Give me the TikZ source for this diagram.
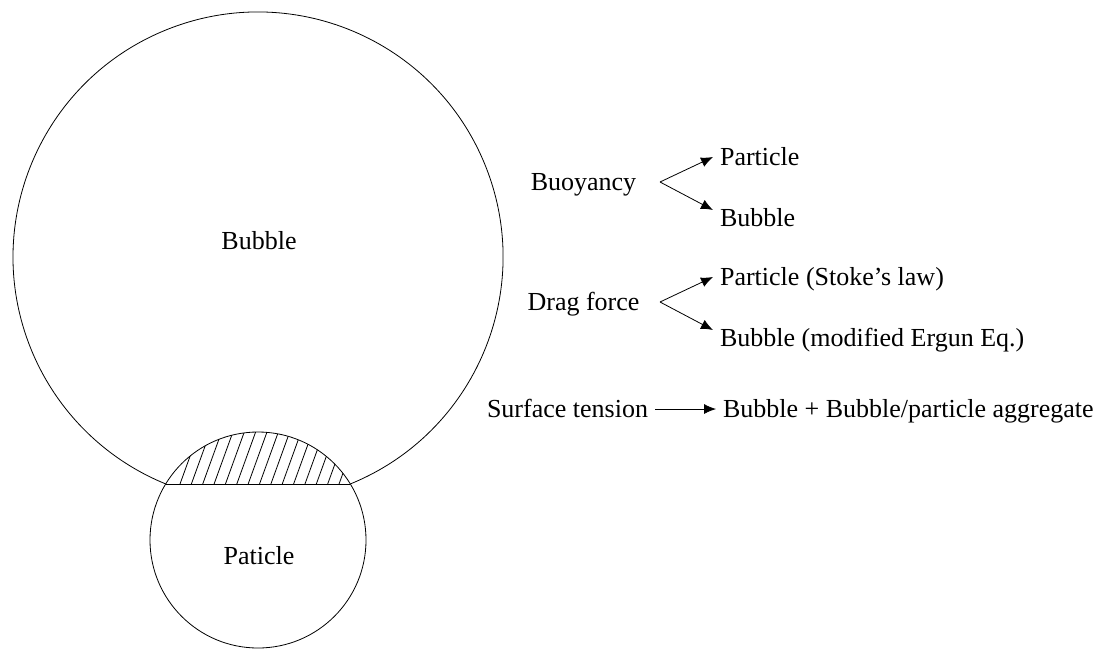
\documentclass[tikz,border=0pt]{standalone}
\usepackage{fontspec}
\setmainfont{Liberation Serif}
\usetikzlibrary{arrows.meta}

\begin{document}
\begin{tikzpicture}[x=0.5pt, y=-0.5pt,
    every node/.style={font=\fontsize{13}{15}\selectfont, text height=8.6pt, text depth=0pt},
    arr/.style={-{Latex[length=6pt, width=5pt]}}]
    \useasboundingbox (0,0) rectangle (1111,648);

    % Bubble and particle
    \coordinate (cl) at (165.6,483.9);
    \coordinate (cr) at (350.4,483.9);
    \draw (cr) arc[start angle=67.85, end angle=-247.85, radius=245];
    \draw (258,540) circle[radius=108];
    \draw (cl) -- (cr);
    \begin{scope}
      \clip (258,540) circle[radius=108];
      \clip (140,380) rectangle (380,483.9);
      \foreach \x in {180,191.36,...,343}
        \draw (\x,484) -- ++(21,-58);
    \end{scope}
    \node (bub) at (259,241) {Bubble};
    \node (pat) at (259,556) {Paticle};

    % Buoyancy
    \node (buoy) at (583.5,182) {Buoyancy};
    \node[anchor=west] (buoyPart) at (713,157) {Particle};
    \node[anchor=west] (buoyBub) at (713,218) {Bubble};
    \coordinate (buoyFork) at (660,182);
    \draw[arr] (buoyFork) -- (buoyPart.west);
    \draw[arr] (buoyFork) -- ([yshift=4pt]buoyBub.west);

    % Drag force
    \node (drag) at (583.5,302) {Drag force};
    \node[anchor=west] (dragPart) at (713,277) {Particle (Stoke’s law)};
    \node[anchor=west] (dragBub) at (713,338) {Bubble (modified Ergun Eq.)};
    \coordinate (dragFork) at (660,302);
    \draw[arr] (dragFork) -- (dragPart.west);
    \draw[arr] (dragFork) -- ([yshift=4pt]dragBub.west);

    % Surface tension
    \node (surf) at (567.5,409) {Surface tension};
    \node[anchor=west] (surfAgg) at (716,409) {Bubble + Bubble/particle aggregate};
    \draw[arr] (surf) -- (surfAgg);
\end{tikzpicture}
\end{document}
